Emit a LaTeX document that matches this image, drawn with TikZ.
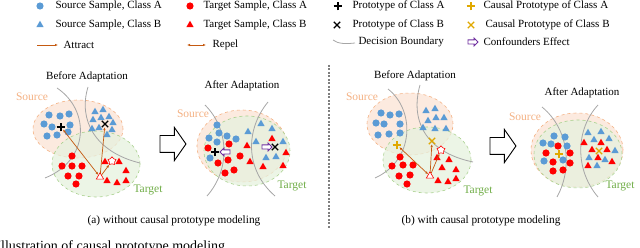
\documentclass[tikz,border=0pt]{standalone}
\usepackage{fontspec}
\setmainfont{Liberation Serif}
\usetikzlibrary{shapes.geometric,shapes.misc,shapes.arrows,arrows.meta}

\definecolor{srcblue}{HTML}{5B9BD5}
\definecolor{tgtred}{HTML}{FF0000}
\definecolor{pullc}{HTML}{C55A11}
\definecolor{srcfill}{HTML}{FCEADF}
\definecolor{srcline}{HTML}{F4B183}
\definecolor{tgtfill}{HTML}{E6F1DE}
\definecolor{tgtline}{HTML}{A9D18E}
\definecolor{tgttext}{HTML}{70AD47}
\definecolor{causal}{HTML}{E0A800}
\definecolor{conf}{HTML}{7030A0}
\definecolor{bnd}{HTML}{A6A6A6}
\definecolor{sepc}{HTML}{7F7F7F}

\begin{document}
\begin{tikzpicture}[x=1pt, y=-1pt,
  every node/.style={font=\fontsize{11}{13}\selectfont},
  sa/.style={circle, fill=srcblue, inner sep=0pt, minimum size=7.2pt},
  sb/.style={regular polygon, regular polygon sides=3, fill=srcblue, inner sep=0pt, minimum size=8.5pt},
  ta/.style={sa, fill=tgtred},
  tb/.style={sb, fill=tgtred},
  pa/.style={cross out, rotate=45, draw=black, line width=1.3pt, inner sep=0pt, minimum size=5pt},
  pb/.style={cross out, draw=black, line width=1.3pt, inner sep=0pt, minimum size=5pt},
  ca/.style={pa, draw=causal},
  cb/.style={pb, draw=causal},
  hollowtri/.style={regular polygon, regular polygon sides=3, draw=tgtred, fill=white,
                    line width=0.6pt, inner sep=0pt, minimum size=8.5pt},
  hstar/.style={star, star points=5, draw=tgtred, fill=white, line width=0.6pt,
                inner sep=0pt, minimum size=8.5pt},
  conff/.style={single arrow, draw=conf, fill=white, line width=0.9pt, inner sep=1.6pt,
                single arrow head extend=1.8pt, minimum height=10pt},
  bigarr/.style={single arrow, draw=black, fill=white, line width=0.9pt, inner sep=8pt,
                 single arrow head extend=8pt, single arrow tip angle=110, minimum height=26pt},
  srcell/.style={draw=srcline, dashed, fill=srcfill, line width=0.6pt},
  tgtell/.style={draw=tgtline, dashed, fill=tgtfill, fill opacity=0.75, line width=0.6pt},
  bound/.style={draw=bnd, line width=0.8pt},
  att/.style={-{Latex[length=3pt,width=2.5pt]}, draw=pullc, line width=0.7pt},
  rep/.style={{Latex[length=3pt,width=2.5pt]}-{Latex[length=3pt,width=2.5pt]}, draw=pullc, line width=0.7pt},
  ttl/.style={font=\fontsize{11}{13}\selectfont},
  srclab/.style={text=srcline, font=\fontsize{11.5}{13}\selectfont},
  tgtlab/.style={text=tgttext, font=\fontsize{11.5}{13}\selectfont},
  capt/.style={font=\fontsize{11.3}{13}\selectfont}]

\useasboundingbox (0,0) rectangle (640,248);

%% --- Legend ---
\node[sa] (lgSA) at (40,6) {};
\node[anchor=west] (lgSAt) at (52,6) {Source Sample, Class A};
\node[sb] (lgSB) at (40,25) {};
\node[anchor=west] (lgSBt) at (52,25) {Source Sample, Class B};
\coordinate (lgAt0) at (37,45); \coordinate (lgAt1) at (58,45);
\draw[att] (lgAt0) -- (lgAt1);
\node[anchor=west] (lgAtt) at (60,45) {Attract};
\node[ta] (lgTA) at (190,6) {};
\node[anchor=west] (lgTAt) at (200,6) {Target Sample, Class A};
\node[tb] (lgTB) at (190,25) {};
\node[anchor=west] (lgTBt) at (200,25) {Target Sample, Class B};
\coordinate (lgRp0) at (187,45); \coordinate (lgRp1) at (206,45);
\draw[rep] (lgRp0) -- (lgRp1);
\node[anchor=west] (lgRpt) at (209,45) {Repel};
\node[pa] (lgPA) at (338,6) {};
\node[anchor=west] (lgPAt) at (349,6) {Prototype of Class A};
\node[pb] (lgPB) at (337,25) {};
\node[anchor=west] (lgPBt) at (349,25) {Prototype of Class B};
\draw[bound] (333,40) .. controls (338,44) and (346,44) .. (355,43);
\node[anchor=west] (lgDBt) at (355,42) {Decision Boundary};
\node[ca] (lgCA) at (471,6) {};
\node[anchor=west] (lgCAt) at (480,6) {Causal Prototype of Class A};
\node[cb] (lgCB) at (471,25) {};
\node[anchor=west] (lgCBt) at (482,25) {Causal Prototype of Class B};
\node[conff] (lgCF) at (472,42) {};
\node[anchor=west] (lgCFt) at (480,42) {Confounders Effect};

%% --- (a) before adaptation ---
\node[ttl] (aBt) at (87,77) {Before Adaptation};
\node[srclab] (aBs) at (32,97) {Source};
\draw[srcell] (78,129) ellipse [x radius=45pt, y radius=29pt];
\draw[tgtell] (96,164) ellipse [x radius=44pt, y radius=33pt];
\node[tgtlab] (aBg) at (148,190) {Target};
\draw[bound] (57,88) .. controls (90,110) and (90,160) .. (45,178);
\draw[bound] (88,87) .. controls (78,120) and (95,152) .. (140,163);
\foreach \p [count=\i] in {(49,115),(60,116),(69,114),(44,124),(52,127),(70,125),(47,136),(57,135),(68,132)}
  \node[sa] (aB-sa\i) at \p {};
\foreach \p [count=\i] in {(95,112),(103,110),(93,120),(101,118),(109,117),(113,123),(92,129),(99,128),(112,130),(107,135)}
  \node[sb] (aB-sb\i) at \p {};
\foreach \p [count=\i] in {(72,156),(62,166),(72,166),(82,166),(68,176),(79,176),(76,184)}
  \node[ta] (aB-ta\i) at \p {};
\foreach \p [count=\i] in {(105,162),(119,162),(126,171),(107,181),(117,183),(126,181)}
  \node[tb] (aB-tb\i) at \p {};
\node[pa] (aBpa) at (61,127) {};
\node[pb] (aBpb) at (105,124) {};
\node[hstar] (aBst) at (112,161) {};
\node[hollowtri] (aBh) at (100,177) {};
\draw[rep] (aBpa) -- (aBh);
\draw[att] (aBh) -- (aBpb);
\draw[att] (aBh) -- (aBst);

\node[bigarr] (aArr) at (170,144) {};

%% --- (a) after adaptation ---
\node[ttl] (aAt) at (242,86) {After Adaptation};
\node[srclab] (aAs) at (193,114) {Source};
\draw[srcell] (242,146) ellipse [x radius=45pt, y radius=36pt];
\draw[tgtell] (247,151) ellipse [x radius=43pt, y radius=35pt];
\node[tgtlab] (aAg) at (292,186) {Target};
\draw[bound] (205,105) .. controls (230,130) and (230,170) .. (207,196);
\draw[bound] (268,102) .. controls (245,130) and (245,170) .. (275,196);
\foreach \p [count=\i] in {(217,125),(219,133),(209,138),(217,142),(227,136),(236,139),(210,158)}
  \node[sa] (aA-sa\i) at \p {};
\foreach \p [count=\i] in {(208,148),(229,144),(240,156),(228,160),(218,163),(234,170),(225,173)}
  \node[ta] (aA-ta\i) at \p {};
\foreach \p [count=\i] in {(248,132),(261,124),(272,129),(256,142),(283,142),(276,157),(266,158)}
  \node[sb] (aA-sb\i) at \p {};
\foreach \p [count=\i] in {(247,146),(272,139),(250,162),(263,167),(283,166),(286,153)}
  \node[tb] (aA-tb\i) at \p {};
\node[pa] (aApa) at (215,152) {};
\node[conff, rotate=180] (aAcf1) at (226,152) {};
\node[pb] (aApb) at (275,147) {};
\node[conff] (aAcf2) at (266,147) {};

\node[capt] (aCap) at (174,221) {(a) without causal prototype modeling};

%% --- separator ---
\draw[sepc, line width=1.2pt, dash pattern=on 2pt off 1.5pt] (329,65) -- (329,228);

%% --- (b) before adaptation ---
\node[ttl] (bBt) at (415,76) {Before Adaptation};
\node[srclab] (bBs) at (362,97) {Source};
\draw[srcell] (410,124) ellipse [x radius=43pt, y radius=31pt];
\draw[tgtell] (427,160) ellipse [x radius=44pt, y radius=33pt];
\node[tgtlab] (bBg) at (478,191) {Target};
\draw[bound] (388,89) .. controls (415,110) and (415,160) .. (375,178);
\draw[bound] (420,85) .. controls (410,120) and (425,152) .. (473,162);
\foreach \p [count=\i] in {(381,113),(390,115),(399,114),(376,123),(384,124),(400,124),(378,135),(389,134),(400,133)}
  \node[sa] (bB-sa\i) at \p {};
\foreach \p [count=\i] in {(426,111),(435,109),(428,121),(436,118),(444,118),(423,128),(435,129),(446,129)}
  \node[sb] (bB-sb\i) at \p {};
\foreach \p [count=\i] in {(400,157),(392,166),(403,165),(413,165),(399,176),(410,175),(407,184)}
  \node[ta] (bB-ta\i) at \p {};
\foreach \p [count=\i] in {(437,158),(449,160),(442,168),(456,170),(438,181),(448,182),(456,179)}
  \node[tb] (bB-tb\i) at \p {};
\node[ca] (bBca) at (397,145) {};
\node[cb] (bBcb) at (432,141) {};
\node[hstar] (bBst) at (441,150) {};
\node[hollowtri] (bBh) at (430,176) {};
\draw[rep] (bBca) -- (bBh);
\draw[att] (bBh) -- (bBcb);
\draw[att] (bBh) -- (bBst);

\node[bigarr] (bArr) at (500,146) {};

%% --- (b) after adaptation ---
\node[ttl] (bAt) at (582,93) {After Adaptation};
\node[srclab] (bAs) at (525,117) {Source};
\draw[srcell] (577,150) ellipse [x radius=46pt, y radius=37pt];
\draw[tgtell] (578,154) ellipse [x radius=44pt, y radius=34pt];
\node[tgtlab] (bAg) at (620,186) {Target};
\draw[bound] (542,107) .. controls (570,130) and (572,170) .. (557,197);
\draw[bound] (598,105) .. controls (575,130) and (575,170) .. (598,197);
\foreach \p [count=\i] in {(554,136),(565,137),(543,143),(551,144),(567,146),(563,160),(544,161)}
  \node[sa] (bA-sa\i) at \p {};
\foreach \p [count=\i] in {(546,153),(558,146),(570,153),(553,162),(570,163),(553,171),(563,170)}
  \node[ta] (bA-ta\i) at \p {};
\foreach \p [count=\i] in {(588,133),(601,132),(594,140),(609,139),(615,151),(589,158),(605,160),(597,166)}
  \node[sb] (bA-sb\i) at \p {};
\foreach \p [count=\i] in {(584,143),(601,143),(592,150),(607,150),(588,166),(612,162),(598,158)}
  \node[tb] (bA-tb\i) at \p {};
\node[ca] (bAca) at (559,154) {};
\node[cb] (bAcb) at (599,151) {};

\node[capt] (bCap) at (481,221) {(b) with causal prototype modeling};

%% --- figure caption (cropped) ---
\node[anchor=base west, font=\fontsize{14}{16}\selectfont] (figCap) at (-7,250.5)
  {Illustration of causal prototype modeling};
\end{tikzpicture}
\end{document}
